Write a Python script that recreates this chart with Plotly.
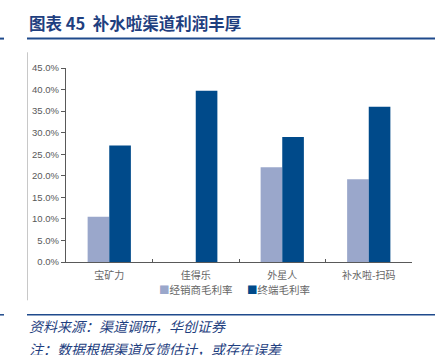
import plotly.graph_objects as go

categories = ["宝矿力", "佳得乐", "外星人", "补水啦-扫码"]
distributor_margin = [10.5, None, 22.0, 19.2]
terminal_margin = [27.0, 39.7, 29.0, 36.0]
series_names = ["经销商毛利率", "终端毛利率"]
series_colors = ["#9AA7CB", "#004A8A"]
y_ticks = [0, 5, 10, 15, 20, 25, 30, 35, 40, 45]

W, H = 435, 355
L, R, T, B = 66, 23, 67.7, 93.3
PW, PH = W - L - R, H - T - B

def px(x):
    return (x - L) / PW

def py(y):
    return (H - B - y) / PH

fig = go.Figure()
fig.add_bar(x=categories, y=distributor_margin, name=series_names[0],
            marker=dict(color=series_colors[0], line=dict(width=0)), showlegend=False)
fig.add_bar(x=categories, y=terminal_margin, name=series_names[1],
            marker=dict(color=series_colors[1], line=dict(width=0)), showlegend=False)

fig.update_layout(
    width=W, height=H,
    margin=dict(l=L, r=R, t=T, b=B),
    paper_bgcolor="white", plot_bgcolor="white",
    barmode="group", bargap=0.5, bargroupgap=0,
    font=dict(family="Noto Sans CJK SC, sans-serif", color="#595959", size=9),
)
fig.update_xaxes(showline=True, linecolor="#595959", linewidth=1.2,
                 ticks="inside", ticklen=3, tickcolor="#595959",
                 tickson="boundaries", tickfont=dict(size=10, color="#666666"),
                 ticklabelstandoff=4,
                 showgrid=False, fixedrange=True)
fig.update_yaxes(range=[0, 45], tickvals=y_ticks,
                 ticktext=[f"{v:.1f}%" for v in y_ticks],
                 showline=True, linecolor="#595959", linewidth=1.2,
                 ticks="outside", ticklen=4, tickcolor="#595959",
                 tickfont=dict(family="Liberation Sans, Arial", size=9.5, color="#595959"),
                 showgrid=False, zeroline=False, fixedrange=True)

shapes = []
shapes.append(dict(type="line", xref="paper", yref="paper", x0=px(27), x1=px(435), y0=py(38.3), y1=py(38.3),
                   line=dict(color="#1F4A8C", width=2)))
shapes.append(dict(type="line", xref="paper", yref="paper", x0=px(0), x1=px(4), y0=py(38.3), y1=py(38.3),
                   line=dict(color="#1F4A8C", width=2)))
shapes.append(dict(type="line", xref="paper", yref="paper", x0=px(27), x1=px(435), y0=py(314.5), y1=py(314.5),
                   line=dict(color="#1F4A8C", width=1.5)))
shapes.append(dict(type="line", xref="paper", yref="paper", x0=px(0), x1=px(4), y0=py(314.5), y1=py(314.5),
                   line=dict(color="#1F4A8C", width=1.5)))
shapes.append(dict(type="line", xref="paper", yref="paper", x0=px(27.5), x1=px(27.5), y0=py(52), y1=py(300),
                   line=dict(color="#C8C8C8", width=1)))
fig.update_layout(shapes=shapes)

legend_x = [157, 245]
annotations = [
    dict(text="<b>图表 45  补水啦渠道利润丰厚</b>", x=px(27), y=py(23), xanchor="left", yanchor="middle",
         font=dict(size=16.5, color="#1F3F7F", family="Noto Sans CJK SC")),
    dict(text="<i>资料来源：渠道调研，华创证券</i>", x=px(27), y=py(326), xanchor="left", yanchor="middle",
         font=dict(size=14, color="#1F3F7F", family="Noto Sans CJK SC")),
    dict(text="<i>注：数据根据渠道反馈估计，或存在误差</i>", x=px(27), y=py(349), xanchor="left", yanchor="middle",
         font=dict(size=14, color="#1F3F7F", family="Noto Sans CJK SC")),
]
for n, c, lx in zip(series_names, series_colors, legend_x):
    annotations.append(dict(text=f"<span style='color:{c}'>■</span>{n}", x=px(lx), y=py(289),
                            xanchor="left", yanchor="middle",
                            font=dict(size=10.5, color="#666666", family="Noto Sans CJK SC")))
for a in annotations:
    a.update(xref="paper", yref="paper", showarrow=False)
fig.update_layout(annotations=annotations)

fig.write_html("out.html")
